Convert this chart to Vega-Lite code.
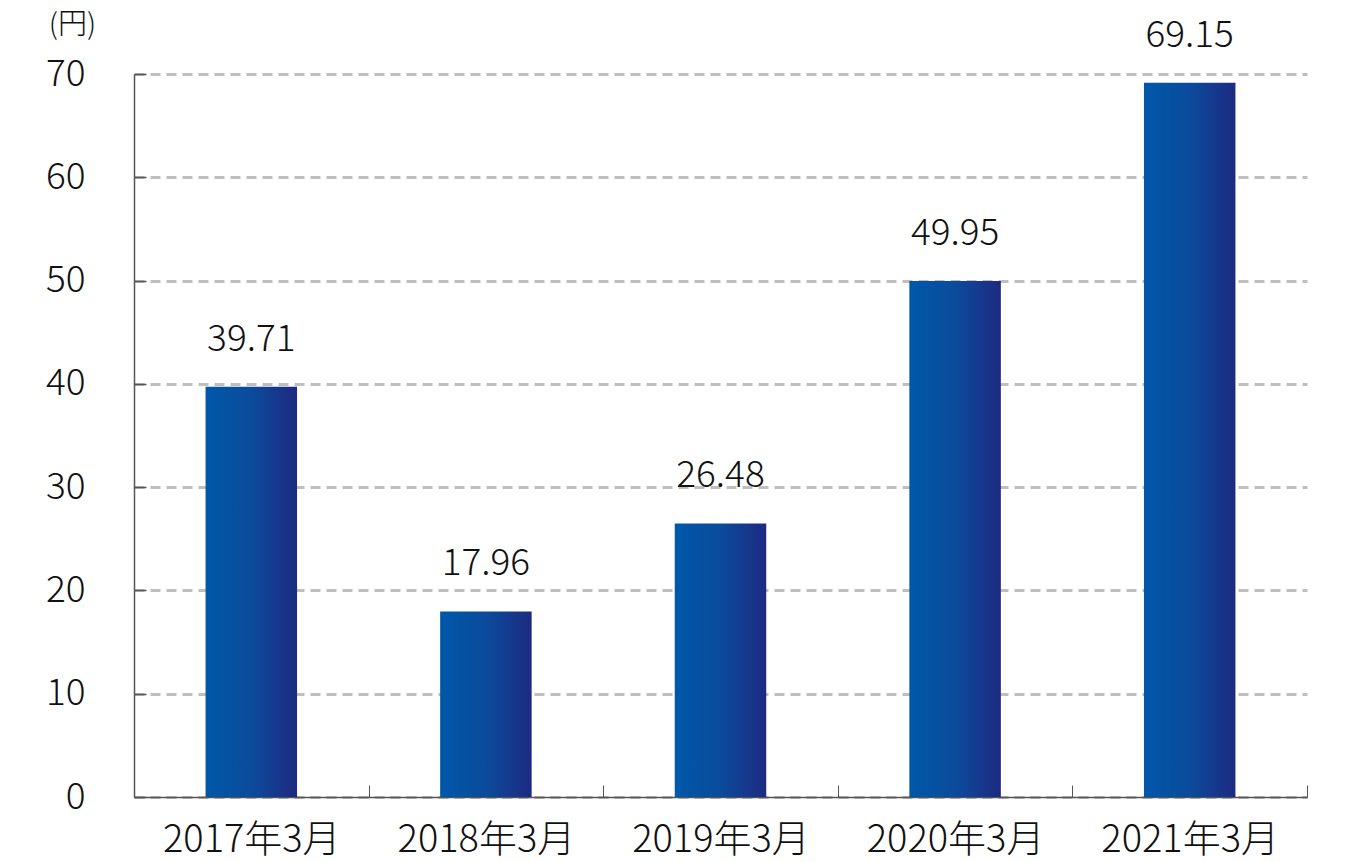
{
  "$schema": "https://vega.github.io/schema/vega-lite/v6.json",
  "autosize": "none",
  "width": 1173,
  "height": 723,
  "padding": {"left": 134, "top": 74, "right": 49, "bottom": 65},
  "background": "white",
  "config": {
    "view": {"stroke": null},
    "font": "Noto Sans CJK JP"
  },
  "data": {
    "values": [
      {"period": "2017年3月", "value": 39.71},
      {"period": "2018年3月", "value": 17.96},
      {"period": "2019年3月", "value": 26.48},
      {"period": "2020年3月", "value": 49.95},
      {"period": "2021年3月", "value": 69.15}
    ]
  },
  "encoding": {
    "x": {
      "field": "period",
      "type": "nominal",
      "sort": null,
      "scale": {"paddingInner": 0, "paddingOuter": 0},
      "axis": {
        "title": null,
        "labelAngle": 0,
        "labelFont": "Noto Sans CJK JP",
        "labelFontSize": 38,
        "labelFontWeight": 300,
        "labelColor": "#111111",
        "labelPadding": 36,
        "tickBand": "extent",
        "tickSize": -12,
        "tickColor": "#555555",
        "tickWidth": 1,
        "domainColor": "#555555",
        "domainWidth": 1.5,
        "grid": false
      }
    },
    "y": {
      "field": "value",
      "type": "quantitative",
      "scale": {"domain": [0, 70], "nice": false},
      "axis": {
        "values": [0, 10, 20, 30, 40, 50, 60, 70],
        "title": "(円)",
        "titleAngle": 0,
        "titleFont": "Noto Sans CJK JP",
        "titleFontSize": 29,
        "titleFontWeight": 300,
        "titleColor": "#111111",
        "titleX": -62,
        "titleY": -50,
        "titleAlign": "center",
        "titleBaseline": "middle",
        "labelFont": "Noto Sans CJK JP",
        "labelFontSize": 37,
        "labelFontWeight": 300,
        "labelColor": "#111111",
        "labelPadding": 61,
        "tickSize": -12,
        "tickColor": "#555555",
        "tickWidth": 1.5,
        "domainColor": "#555555",
        "domainWidth": 1.5,
        "grid": true,
        "gridColor": "#bfbfbf",
        "gridWidth": 3,
        "gridDash": [10, 6]
      }
    }
  },
  "layer": [
    {
      "mark": {
        "type": "bar",
        "width": {"band": 0.39},
        "color": {
          "gradient": "linear",
          "x1": 0, "y1": 0, "x2": 1, "y2": 0,
          "stops": [
            {"offset": 0, "color": "#0058a9"},
            {"offset": 0.5, "color": "#0b4b9c"},
            {"offset": 1, "color": "#1d2a82"}
          ]
        }
      }
    },
    {
      "mark": {
        "type": "text",
        "baseline": "alphabetic",
        "dy": -36,
        "font": "Noto Sans CJK JP",
        "fontSize": 37,
        "fontWeight": 300,
        "color": "#111111"
      },
      "encoding": {
        "text": {"field": "value", "type": "quantitative", "format": ".2f"}
      }
    }
  ]
}
